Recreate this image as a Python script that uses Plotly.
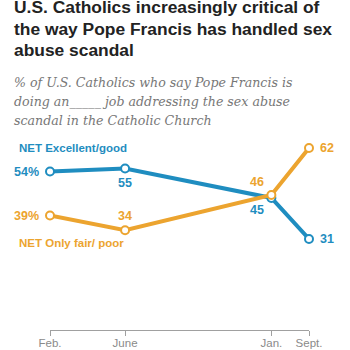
import plotly.graph_objects as go

dates = ["2014-02-01", "2015-06-01", "2018-01-01", "2018-09-01"]
tick_labels = ["Feb.", "June", "Jan.", "Sept."]
excellent_good = [54, 55, 45, 31]
fair_poor = [39, 34, 46, 62]

BLUE = "#1f8dc0"
ORANGE = "#eca42f"

L, R, T, B = 50, 41, 124, 20
W = H = 350
PW, PH = W - L - R, H - T - B


def px2paper(px, py):
    return (px - L) / PW, (H - B - py) / PH


def labels(vals):
    return [f"{v}%" if i == 0 else str(v) for i, v in enumerate(vals)]


fig = go.Figure()
for vals, color in [(excellent_good, BLUE), (fair_poor, ORANGE)]:
    fig.add_trace(go.Scatter(
        x=dates, y=vals, mode="lines+markers",
        line=dict(color=color, width=4),
        marker=dict(size=8, color="white", line=dict(color=color, width=2)),
        cliponaxis=False, showlegend=False, hoverinfo="skip",
    ))

anns = []
# data labels: (xanchor, xshift, yshift) per point
eg_pos = [("right", -9, 0), ("center", 0, -14), ("center", -14, -12), ("left", 9, 0)]
fp_pos = [("right", -9, 0), ("center", 0, 14), ("center", -14, 13), ("left", 9, 0)]
for vals, pos, color in [(excellent_good, eg_pos, BLUE), (fair_poor, fp_pos, ORANGE)]:
    for d, v, t, (xa, xs, ys) in zip(dates, vals, labels(vals), pos):
        anns.append(dict(text=t, x=d, y=v, xref="x", yref="y", xanchor=xa, yanchor="middle",
                         xshift=xs, yshift=ys, showarrow=False,
                         font=dict(family="Liberation Sans", size=12.5, color=color, weight="bold")))

title_lines = ["U.S. Catholics increasingly critical of",
               "the way Pope Francis has handled sex",
               "abuse scandal"]
for i, t in enumerate(title_lines):
    x, y = px2paper(12, 7.5 + 21 * i)
    anns.append(dict(text=t, x=x, y=y, xref="paper", yref="paper",
                     xanchor="left", yanchor="middle", showarrow=False,
                     font=dict(family="Liberation Sans", size=17.4, color="#222222", weight="bold")))
sub_lines = ["% of U.S. Catholics who say Pope Francis is",
             "doing an_____ job addressing the sex abuse",
             "scandal in the Catholic Church"]
for i, t in enumerate(sub_lines):
    x, y = px2paper(12, 82 + 19 * i)
    anns.append(dict(text=t, x=x, y=y, xref="paper", yref="paper",
                     xanchor="left", yanchor="middle", showarrow=False,
                     font=dict(family="DejaVu Serif", size=12.6, color="#777777", style="italic")))
x, y = px2paper(17, 148)
anns.append(dict(text="NET Excellent/good", x=x, y=y, xref="paper", yref="paper",
                 xanchor="left", yanchor="middle", showarrow=False,
                 font=dict(family="Liberation Sans", size=11.5, color=BLUE, weight="bold")))
x, y = px2paper(17, 243)
anns.append(dict(text="NET Only fair/ poor", x=x, y=y, xref="paper", yref="paper",
                 xanchor="left", yanchor="middle", showarrow=False,
                 font=dict(family="Liberation Sans", size=11.5, color=ORANGE, weight="bold")))

fig.update_layout(
    width=W, height=H,
    margin=dict(l=L, r=R, t=T, b=B, autoexpand=False),
    paper_bgcolor="white", plot_bgcolor="white",
    annotations=anns,
    xaxis=dict(type="date", range=[dates[0], dates[-1]], tickvals=dates, ticktext=tick_labels,
               automargin=False, fixedrange=True,
               showgrid=False, zeroline=False, showline=True, linecolor="#a0a0a0", linewidth=1,
               ticks="outside", ticklen=5, tickcolor="#a0a0a0", ticklabelstandoff=-3,
               tickfont=dict(family="Liberation Sans", size=11.5, color="#8a8a8a")),
    yaxis=dict(range=[0, PH / 2.935], visible=False, showgrid=False, zeroline=False,
               automargin=False),
)

fig.write_html("out.html")
